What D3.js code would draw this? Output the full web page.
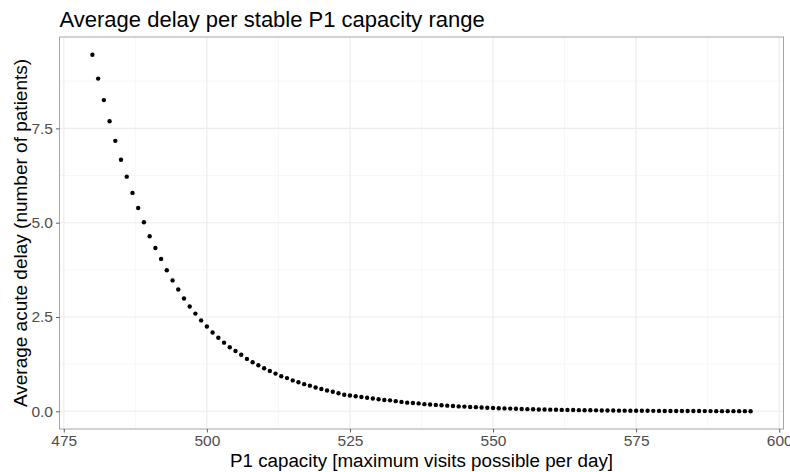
<!DOCTYPE html>
<html>
<head>
<meta charset="utf-8">
<script src="https://cdn.jsdelivr.net/npm/d3@7"></script>
<style>
  html, body { margin: 0; padding: 0; background: #fff; }
  svg { display: block; font-family: "Liberation Sans", Arial, Helvetica, sans-serif; }
</style>
</head>
<body>
<svg id="chart" width="790" height="472"></svg>
<script>
const capacity = [480,481,482,483,484,485,486,487,488,489,490,491,492,493,494,495,496,497,498,499,
  500,501,502,503,504,505,506,507,508,509,510,511,512,513,514,515,516,517,518,519,
  520,521,522,523,524,525,526,527,528,529,530,531,532,533,534,535,536,537,538,539,
  540,541,542,543,544,545,546,547,548,549,550,551,552,553,554,555,556,557,558,559,
  560,561,562,563,564,565,566,567,568,569,570,571,572,573,574,575,576,577,578,579,
  580,581,582,583,584,585,586,587,588,589,590,591,592,593,594,595];
const delay = [9.45,8.82,8.25,7.69,7.17,6.67,6.22,5.79,5.39,5.01,4.64,4.33,4.04,3.74,3.47,3.23,2.99,2.78,2.59,2.41,
  2.25,2.09,1.95,1.82,1.70,1.60,1.50,1.39,1.30,1.22,1.14,1.07,1.00,0.93,0.88,0.82,0.77,0.72,0.68,0.63,
  0.59,0.55,0.52,0.48,0.44,0.42,0.40,0.38,0.36,0.34,0.32,0.30,0.29,0.27,0.25,0.23,0.22,0.21,0.19,0.18,
  0.17,0.16,0.15,0.14,0.13,0.125,0.115,0.11,0.10,0.095,0.088,0.082,0.077,0.072,0.067,0.062,0.058,0.054,0.050,0.047,
  0.044,0.041,0.038,0.035,0.033,0.031,0.029,0.027,0.025,0.023,0.021,0.020,0.018,0.017,0.016,0.015,0.014,0.013,0.012,0.011,
  0.010,0.0095,0.009,0.008,0.0075,0.007,0.0065,0.006,0.0055,0.005,0.0048,0.0045,0.0042,0.004,0.0037,0.0035];
const xTicks = [475, 500, 525, 550, 575, 600];
const xMinor = [487.5, 512.5, 537.5, 562.5, 587.5];
const yTicks = [0, 2.5, 5.0, 7.5];
const yMinor = [1.25, 3.75, 6.25, 8.75];
const titleText = "Average delay per stable P1 capacity range";
const xTitle = "P1 capacity [maximum visits possible per day]";
const yTitle = "Average acute delay (number of patients)";

const data = capacity.map((c, i) => ({ x: c, y: delay[i] }));

const svg = d3.select("#chart");
const panel = { left: 59.5, right: 783.5, top: 37, bottom: 429 };

function expand(ext) {
  const r = ext[1] - ext[0];
  return [ext[0] - 0.05 * r, ext[1] + 0.05 * r];
}
const x = d3.scaleLinear().domain(expand(d3.extent(capacity))).range([panel.left, panel.right]);
const y = d3.scaleLinear().domain(expand(d3.extent(delay))).range([panel.bottom, panel.top]);

svg.append("rect").attr("width", 790).attr("height", 472).attr("fill", "#fff");

// minor grid
const g = svg.append("g");
g.selectAll(".xminor").data(xMinor).enter().append("line")
  .attr("x1", d => x(d)).attr("x2", d => x(d)).attr("y1", panel.top).attr("y2", panel.bottom)
  .attr("stroke", "#F4F4F4").attr("stroke-width", 0.7);
g.selectAll(".yminor").data(yMinor).enter().append("line")
  .attr("y1", d => y(d)).attr("y2", d => y(d)).attr("x1", panel.left).attr("x2", panel.right)
  .attr("stroke", "#F4F4F4").attr("stroke-width", 0.7);
// major grid
g.selectAll(".xmajor").data(xTicks).enter().append("line")
  .attr("x1", d => x(d)).attr("x2", d => x(d)).attr("y1", panel.top).attr("y2", panel.bottom)
  .attr("stroke", "#EBEBEB").attr("stroke-width", 1.1);
g.selectAll(".ymajor").data(yTicks).enter().append("line")
  .attr("y1", d => y(d)).attr("y2", d => y(d)).attr("x1", panel.left).attr("x2", panel.right)
  .attr("stroke", "#EBEBEB").attr("stroke-width", 1.1);

// points
svg.append("g").selectAll("circle").data(data).enter().append("circle")
  .attr("cx", d => x(d.x)).attr("cy", d => y(d.y)).attr("r", 2.2).attr("fill", "#000");

// panel border
svg.append("rect").attr("x", panel.left).attr("y", panel.top)
  .attr("width", panel.right - panel.left).attr("height", panel.bottom - panel.top)
  .attr("fill", "none").attr("stroke", "#A6A6A6").attr("stroke-width", 1);

// axes
const xAxis = d3.axisBottom(x).tickValues(xTicks).tickFormat(d3.format("d")).tickSizeOuter(0).tickSize(3.5).tickPadding(2);
const xa = svg.append("g").attr("transform", `translate(0,${panel.bottom})`).call(xAxis);
xa.select(".domain").remove();
xa.selectAll("line").attr("stroke", "#333").attr("stroke-width", 0.8);
xa.selectAll("text").attr("fill", "#4D4D4D").style("font-size", "15.5px")
  .style("font-family", "'Liberation Sans', Arial, sans-serif");

const yAxis = d3.axisLeft(y).tickValues(yTicks).tickFormat(d3.format(".1f")).tickSizeOuter(0).tickSize(3.5).tickPadding(3);
const ya = svg.append("g").attr("transform", `translate(${panel.left},0)`).call(yAxis);
ya.select(".domain").remove();
ya.selectAll("line").attr("stroke", "#333").attr("stroke-width", 0.8);
ya.selectAll("text").attr("fill", "#4D4D4D").style("font-size", "15.5px")
  .style("font-family", "'Liberation Sans', Arial, sans-serif");

// titles
svg.append("text").attr("x", panel.left).attr("y", 27).attr("fill", "#000")
  .style("font-size", "22px").text(titleText);
svg.append("text").attr("x", (panel.left + panel.right) / 2).attr("y", 467)
  .attr("text-anchor", "middle").attr("fill", "#000").style("font-size", "18.8px").text(xTitle);
svg.append("text").attr("transform", `translate(26.5,${(panel.top + panel.bottom) / 2}) rotate(-90)`)
  .attr("text-anchor", "middle").attr("fill", "#000").style("font-size", "19px").text(yTitle);
</script>
</body>
</html>
